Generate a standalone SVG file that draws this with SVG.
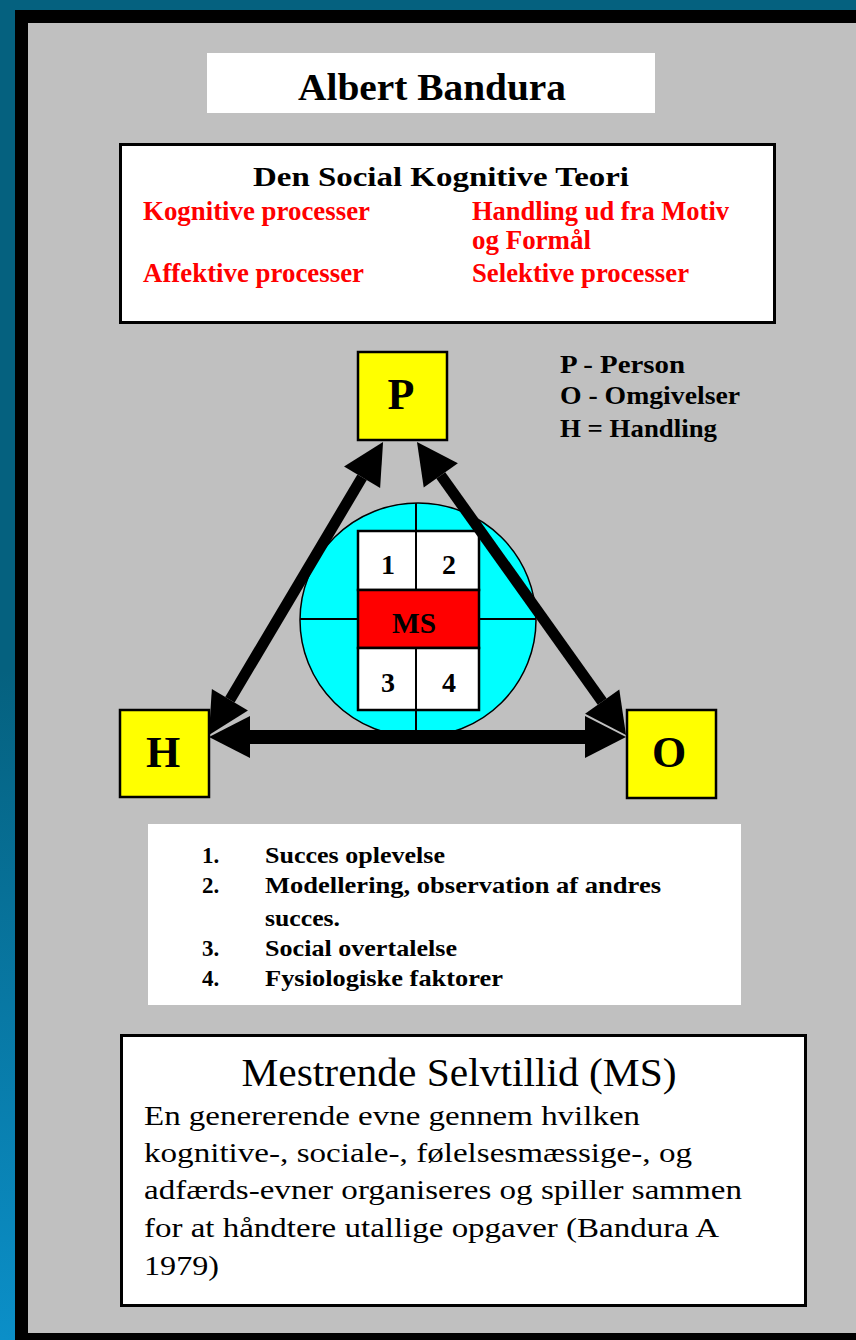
<svg xmlns="http://www.w3.org/2000/svg" width="856" height="1340" viewBox="0 0 856 1340">
<defs>
<linearGradient id="side" x1="0" y1="0" x2="0" y2="1">
<stop offset="0" stop-color="#05617F"/>
<stop offset="0.5" stop-color="#05617F"/>
<stop offset="1" stop-color="#0B8FC8"/>
</linearGradient>
<marker id="head" markerUnits="userSpaceOnUse" markerWidth="44" markerHeight="44" viewBox="0 -22 42 44" refX="0" refY="0" orient="auto-start-reverse">
<path d="M0,-21 L41,0 L0,21 Z" fill="#000"/>
</marker>
<style>
.serif{font-family:"Liberation Serif","Times New Roman",serif;}
.b{font-weight:bold;}
.red{fill:#FF0000;}
.box{fill:#FFFF00;stroke:#000;stroke-width:2.5;}
.wb{fill:#fff;stroke:#000;stroke-width:3;}
.conn{stroke:#000;fill:none;}
.mid{text-anchor:middle;}
</style>
</defs>
<rect x="0" y="0" width="856" height="1340" fill="#05617F"/>
<rect x="0" y="0" width="15" height="1340" fill="url(#side)"/>
<rect x="15" y="10" width="841" height="1330" fill="#000"/>
<rect x="28" y="23" width="828" height="1310" fill="#C0C0C0"/>

<g id="title">
<rect x="207" y="53" width="448" height="60" fill="#fff"/>
<text class="serif b" x="298" y="100" font-size="37" textLength="268" lengthAdjust="spacingAndGlyphs">Albert Bandura</text>
</g>

<g id="theory">
<rect class="wb" x="120.5" y="144.5" width="654" height="178"/>
<text class="serif b" x="253" y="186" font-size="28" textLength="376" lengthAdjust="spacingAndGlyphs">Den Social Kognitive Teori</text>
<text class="serif b red" x="143" y="220" font-size="28" textLength="227" lengthAdjust="spacingAndGlyphs">Kognitive processer</text>
<text class="serif b red" x="472" y="220" font-size="28" textLength="257" lengthAdjust="spacingAndGlyphs">Handling ud fra Motiv</text>
<text class="serif b red" x="472" y="249" font-size="28" textLength="119" lengthAdjust="spacingAndGlyphs">og Formål</text>
<text class="serif b red" x="143" y="282" font-size="28" textLength="221" lengthAdjust="spacingAndGlyphs">Affektive processer</text>
<text class="serif b red" x="472" y="282" font-size="28" textLength="217" lengthAdjust="spacingAndGlyphs">Selektive processer</text>
</g>

<g id="legend">
<text class="serif b" x="560" y="373" font-size="25" textLength="125" lengthAdjust="spacingAndGlyphs">P - Person</text>
<text class="serif b" x="560" y="404" font-size="25" textLength="180" lengthAdjust="spacingAndGlyphs">O - Omgivelser</text>
<text class="serif b" x="560" y="437" font-size="25" textLength="157" lengthAdjust="spacingAndGlyphs">H = Handling</text>
</g>

<g id="ms-circle">
<ellipse cx="418" cy="620" rx="118" ry="117" fill="#00FFFF" stroke="#000" stroke-width="1.5"/>
<line x1="416" y1="503" x2="416" y2="738" stroke="#000" stroke-width="2"/>
<line x1="300" y1="619" x2="536" y2="619" stroke="#000" stroke-width="2"/>
<rect x="358" y="531" width="121" height="59" fill="#fff" stroke="#000" stroke-width="2.5"/>
<rect x="358" y="590" width="121" height="58" fill="#FF0000" stroke="#000" stroke-width="2.5"/>
<rect x="358" y="648" width="121" height="62" fill="#fff" stroke="#000" stroke-width="2.5"/>
<line x1="416" y1="531" x2="416" y2="590" stroke="#000" stroke-width="2"/>
<line x1="416" y1="648" x2="416" y2="710" stroke="#000" stroke-width="2"/>
<text class="serif b mid" x="388" y="574" font-size="28">1</text>
<text class="serif b mid" x="449" y="574" font-size="28">2</text>
<text class="serif b mid" x="414" y="633" font-size="30" textLength="44" lengthAdjust="spacingAndGlyphs">MS</text>
<text class="serif b mid" x="388" y="692" font-size="28">3</text>
<text class="serif b mid" x="449" y="692" font-size="28">4</text>
</g>

<g id="connectors">
<line class="conn" x1="362.1" y1="477.3" x2="229.9" y2="699.7" stroke-width="11" marker-start="url(#head)" marker-end="url(#head)"/>
<line class="conn" x1="440.8" y1="475.4" x2="602.2" y2="701.6" stroke-width="11" marker-start="url(#head)" marker-end="url(#head)"/>
<line class="conn" x1="250" y1="737" x2="585" y2="737" stroke-width="14" marker-start="url(#head)" marker-end="url(#head)"/>
</g>

<g id="node-P">
<rect class="box" x="358" y="352" width="89" height="88"/>
<text class="serif b mid" x="401" y="409" font-size="44">P</text>
</g>
<g id="node-H">
<rect class="box" x="120" y="710" width="89" height="87"/>
<text class="serif b mid" x="163" y="767" font-size="44">H</text>
</g>
<g id="node-O">
<rect class="box" x="627" y="710" width="89" height="88"/>
<text class="serif b mid" x="669" y="767" font-size="44">O</text>
</g>

<g id="list">
<rect x="148" y="824" width="593" height="181" fill="#fff"/>
<text class="serif b" x="202" y="863" font-size="23">1.</text>
<text class="serif b" x="265" y="863" font-size="23" textLength="180" lengthAdjust="spacingAndGlyphs">Succes oplevelse</text>
<text class="serif b" x="202" y="893" font-size="23">2.</text>
<text class="serif b" x="265" y="893" font-size="23" textLength="396" lengthAdjust="spacingAndGlyphs">Modellering, observation af andres</text>
<text class="serif b" x="265" y="926" font-size="23" textLength="75" lengthAdjust="spacingAndGlyphs">succes.</text>
<text class="serif b" x="202" y="956" font-size="23">3.</text>
<text class="serif b" x="265" y="956" font-size="23" textLength="192" lengthAdjust="spacingAndGlyphs">Social overtalelse</text>
<text class="serif b" x="202" y="986" font-size="23">4.</text>
<text class="serif b" x="265" y="986" font-size="23" textLength="238" lengthAdjust="spacingAndGlyphs">Fysiologiske faktorer</text>
</g>

<g id="definition">
<rect class="wb" x="121.5" y="1035.5" width="684" height="270"/>
<text class="serif mid" x="459" y="1086" font-size="39" textLength="435" lengthAdjust="spacingAndGlyphs">Mestrende Selvtillid (MS)</text>
<text class="serif" x="144" y="1125" font-size="27" textLength="496" lengthAdjust="spacingAndGlyphs">En genererende evne gennem hvilken</text>
<text class="serif" x="144" y="1162" font-size="27" textLength="548" lengthAdjust="spacingAndGlyphs">kognitive-, sociale-, følelsesmæssige-, og</text>
<text class="serif" x="144" y="1199" font-size="27" textLength="598" lengthAdjust="spacingAndGlyphs">adfærds-evner organiseres og spiller sammen</text>
<text class="serif" x="144" y="1237" font-size="27" textLength="575" lengthAdjust="spacingAndGlyphs">for at håndtere utallige opgaver (Bandura A</text>
<text class="serif" x="144" y="1275" font-size="27" textLength="75" lengthAdjust="spacingAndGlyphs">1979)</text>
</g>
</svg>
